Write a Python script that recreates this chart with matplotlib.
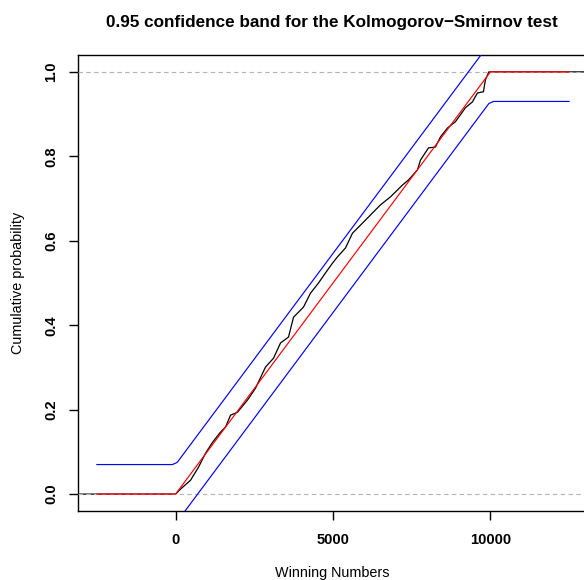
import numpy as np
import matplotlib
matplotlib.use("Agg")
import matplotlib.pyplot as plt

plt.rcParams['font.family'] = ['Liberation Sans', 'DejaVu Sans']

ecdf_x = [0, 159, 476, 730, 952, 1175, 1429, 1587, 1746, 1968, 2286, 2540,
          2857, 3111, 3333, 3587, 3746, 4063, 4286, 4540, 4762, 4984, 5143,
          5397, 5619, 5873, 6190, 6508, 6825, 7206, 7397, 7683, 7778, 8032,
          8254, 8413, 8635, 8889, 9206, 9429, 9587, 9778, 9841, 9950]
ecdf_y = [0.0, 0.012, 0.033, 0.064, 0.097, 0.123, 0.147, 0.159, 0.187, 0.194,
          0.223, 0.251, 0.301, 0.322, 0.358, 0.372, 0.419, 0.443, 0.476, 0.500,
          0.524, 0.547, 0.562, 0.583, 0.618, 0.637, 0.661, 0.685, 0.704, 0.732,
          0.744, 0.768, 0.791, 0.820, 0.822, 0.846, 0.867, 0.882, 0.915, 0.929,
          0.950, 0.953, 0.981, 1.0]

# theoretical uniform cdf on [0, 10000]
unif_x = [-2500, 0, 10000, 12500]
unif_y = [0, 0, 1, 1]
ks_d = 0.07  # 0.95 KS half width

xlim = (-3100, 13100)
ylim = (-0.04, 1.04)

fig = plt.figure(figsize=(5.84, 5.80), dpi=100)
ax = fig.add_axes([78/584, 1-511/580, (588-78)/584, (511-55)/580])
ax.set_xlim(xlim)
ax.set_ylim(ylim)

# ecdf with its extensions to the plot edges
ex = [xlim[0]] + ecdf_x + [xlim[1]]
ey = [0.0] + ecdf_y + [1.0]
ax.plot(ex, ey, color='black', lw=0.9, zorder=2)
ax.axhline(0, color='#b3b3b3', ls=(0, (4, 3)), lw=0.8, zorder=3)
ax.axhline(1, color='#b3b3b3', ls=(0, (4, 3)), lw=0.8, zorder=3)

ax.plot(unif_x, unif_y, color='red', lw=0.85, zorder=4)

grid = np.linspace(unif_x[0], unif_x[-1], 101)
f = np.interp(grid, unif_x, unif_y)
ax.plot(grid, f + ks_d, color='blue', lw=0.85, zorder=4)
ax.plot(grid, f - ks_d, color='blue', lw=0.85, zorder=4)

ax.set_xticks([0, 5000, 10000])
ax.set_xticklabels(['0', '5000', '10000'], fontweight='bold', fontsize=10.6)
ax.set_yticks([0.0, 0.2, 0.4, 0.6, 0.8, 1.0])
ax.set_yticklabels(['0.0', '0.2', '0.4', '0.6', '0.8', '1.0'], fontweight='bold',
                   fontsize=10.6, rotation=90, va='center')
ax.tick_params(direction='out', length=6.5, width=1.0, pad=7.5)
ax.tick_params(axis='x', pad=9.0)
for s in ax.spines.values():
    s.set_linewidth(1.0)

fig.text(332/584, 1-22/580, '0.95 confidence band for the Kolmogorov\u2212Smirnov test',
         ha='center', va='center', fontsize=12.3, fontweight='bold')
fig.text(332/584, 1-573/580, 'Winning Numbers', ha='center', va='center', fontsize=10.4)
fig.text(18/584, 1-283/580, 'Cumulative probability', ha='center', va='center',
         rotation=90, fontsize=10.4)

fig.savefig('out.png', dpi=100)
